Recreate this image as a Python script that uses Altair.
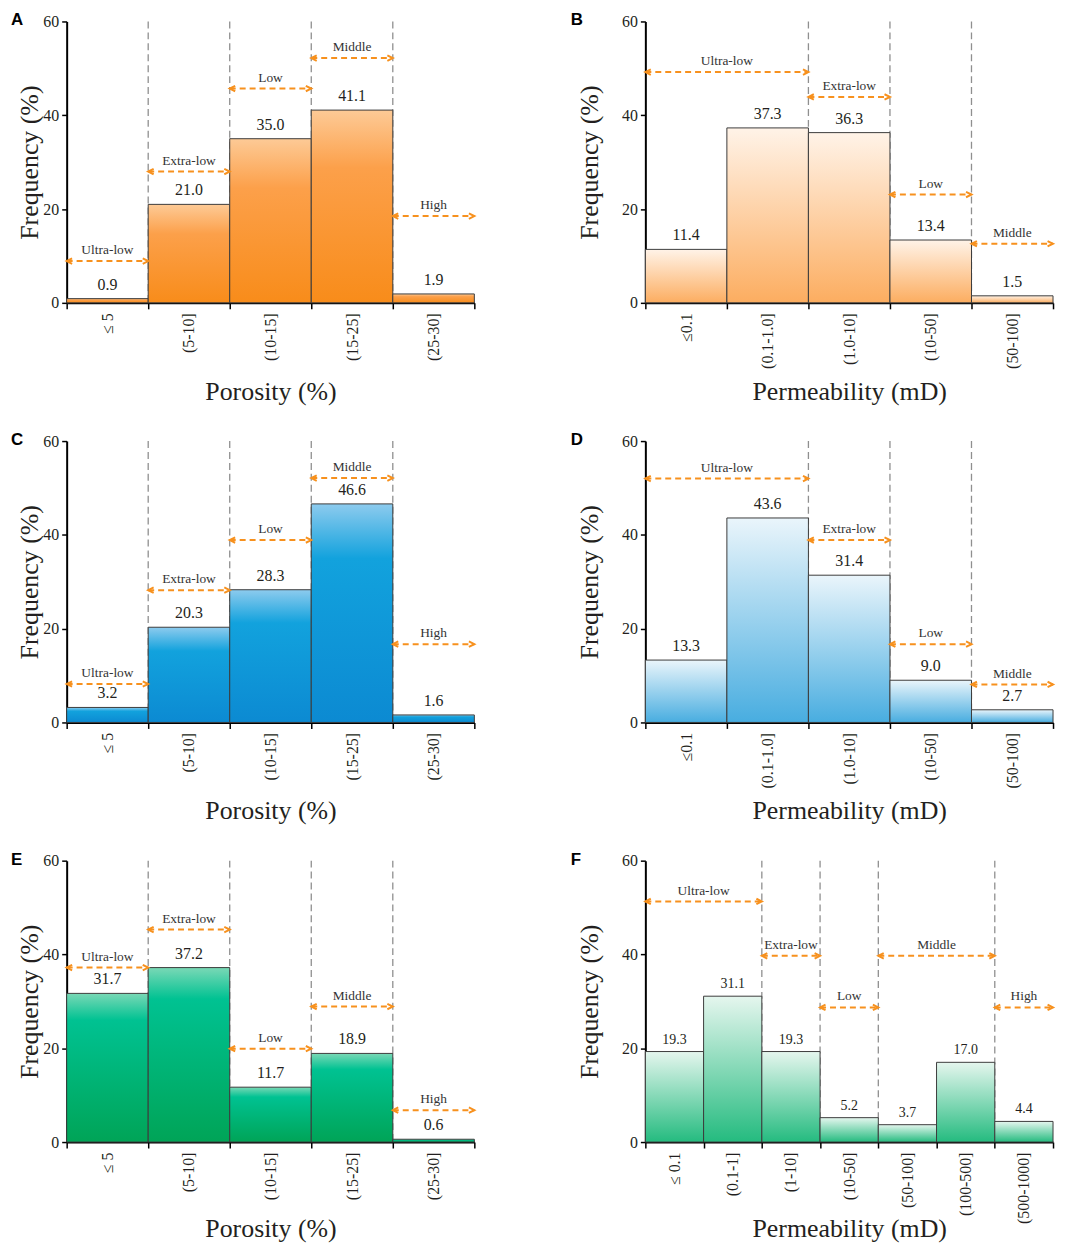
import json
import altair as alt
import pandas as pd

SERIF = "Liberation Serif"
SANS = "Liberation Sans"
ORANGE = "#f7911e"
TXT = "#231f20"

# ---------------- data ----------------
por_cats = ["≤ 5", "(5-10]", "(10-15]", "(15-25]", "(25-30]"]
perm_cats5 = ["≤0.1", "(0.1-1.0]", "(1.0-10]", "(10-50]", "(50-100]"]
perm_cats7 = ["≤ 0.1", "(0.1-1]", "(1-10]", "(10-50]", "(50-100]", "(100-500]", "(500-1000]"]

a_vals = [0.9, 21.0, 35.0, 41.1, 1.9]
b_vals = [11.4, 37.3, 36.3, 13.4, 1.5]
c_vals = [3.2, 20.3, 28.3, 46.6, 1.6]
d_vals = [13.3, 43.6, 31.4, 9.0, 2.7]
e_vals = [31.7, 37.2, 11.7, 18.9, 0.6]
f_vals = [19.3, 31.1, 19.3, 5.2, 3.7, 17.0, 4.4]

por_cls = ["Ultra-low", "Extra-low", "Low", "Middle", "High"]
por_cls_start = [0, 1, 2, 3, 4]
por_cls_end = [1, 2, 3, 4, 5]
por_bounds = [1, 2, 3, 4]

perm5_cls = ["Ultra-low", "Extra-low", "Low", "Middle"]
perm5_cls_start = [0, 2, 3, 4]
perm5_cls_end = [2, 3, 4, 5]
perm5_bounds = [2, 3, 4]

perm7_cls = ["Ultra-low", "Extra-low", "Low", "Middle", "High"]
perm7_cls_start = [0, 2, 3, 4, 6]
perm7_cls_end = [2, 3, 4, 6, 7]
perm7_bounds = [2, 3, 4, 6]

# arrow heights (frequency units)
a_arrow = [8.9, 28.0, 45.7, 52.2, 18.5]
b_arrow = [49.2, 43.9, 23.1, 12.6]
c_arrow = [8.2, 28.2, 38.9, 52.1, 16.7]
d_arrow = [52.0, 38.9, 16.7, 8.1]
e_arrow = [37.2, 45.3, 19.9, 28.9, 6.8]
f_arrow = [51.3, 39.7, 28.7, 39.7, 28.7]

y_ticks = [0, 20, 40, 60]


def grad(stops):
    return alt.LinearGradient(
        gradient="linear", x1=0, y1=0, x2=0, y2=1,
        stops=[alt.GradientStop(offset=o, color=c) for o, c in stops],
    )


G_A = grad([(0, "#fdca96"), (0.3, "#fca04a"), (1, "#f88c1a")])
G_B = grad([(0, "#fff3e8"), (1, "#fcad60")])
G_C = grad([(0, "#8dcbee"), (0.25, "#12a2dd"), (1, "#0c8ad2")])
G_D = grad([(0, "#eaf5fb"), (1, "#48ade0")])
G_E = grad([(0, "#7ad8b6"), (0.18, "#00c292"), (1, "#00a457")])
G_F = grad([(0, "#e5f6ee"), (1, "#24bb7f")])

W, H = 410, 283
LEFT_PAD, RIGHT_PAD = 0, 19


def panel(letter, cats, vals, cls, cls_s, cls_e, cls_y, bounds, fill,
          xtitle, left, vfont, vdy, title_y):
    n = len(cats)
    bars = pd.DataFrame({
        "start": list(range(n)),
        "end": list(range(1, n + 1)),
        "value": vals,
        "label": [f"{v:.1f}" for v in vals],
    })
    clsdf = pd.DataFrame({"name": cls, "s": cls_s, "e": cls_e, "ay": cls_y})
    bdf = pd.DataFrame({"b": bounds})

    xscale = alt.Scale(domain=[0, n], nice=False, zero=False)
    yscale = alt.Scale(domain=[0, 60], nice=False)
    is_edge = "datum.value % 1 == 0"
    label_expr = (is_edge + " ? '' : "
                  + json.dumps(cats, ensure_ascii=False)
                  + "[floor(datum.value)]")
    xaxis = alt.Axis(
        values=[i / 2 for i in range(2 * n + 1)],
        labelExpr=label_expr,
        labelAngle=270, labelFont=SERIF, labelColor=TXT,
        labelFontSize={"condition": {"test": is_edge, "value": 0}, "value": 16},
        labelPadding=4, labelOverlap=False, labelFlush=False,
        tickSize=6, tickColor="black", tickWidth=1.5,
        tickOpacity={"condition": {"test": is_edge, "value": 1}, "value": 0},
        domainColor="black", domainWidth=2, grid=False,
        titleFont=SERIF, titleFontSize=26, titleFontWeight="normal",
        titleColor=TXT, titleY=title_y, titleBaseline="alphabetic",
    )
    yaxis = alt.Axis(
        values=y_ticks, grid=False, domainColor="black", domainWidth=2,
        tickColor="black", tickWidth=1.5, tickSize=5,
        labelFont=SERIF, labelFontSize=16, labelColor=TXT, labelPadding=3,
        titleFont=SERIF, titleFontSize=26, titleFontWeight="normal",
        titleColor=TXT, titlePadding=LEFT_PAD if left else RIGHT_PAD,
    )

    def X(f):
        return alt.X(f, type="quantitative", scale=xscale, axis=xaxis, title=xtitle)

    def Y(f):
        return alt.Y(f, type="quantitative", scale=yscale, axis=yaxis, title="Frequency (%)")

    rules = alt.Chart(bdf).mark_rule(
        color="#8f8f8f", strokeDash=[7, 4], strokeWidth=1.3
    ).encode(x=X("b"), y=alt.datum(60), y2=alt.datum(0))

    bar = alt.Chart(bars).mark_bar(
        fill=fill, stroke="#3b3b3b", strokeWidth=1
    ).encode(x=X("start"), x2="end", y=Y("value"), y2=alt.datum(0))

    vtext = alt.Chart(bars).transform_calculate(
        mid="datum.start + 0.5"
    ).mark_text(
        font=SERIF, fontSize=vfont, color=TXT, baseline="middle", dy=vdy
    ).encode(x=X("mid"), y=Y("value"), text="label:N")

    arrow = alt.Chart(clsdf).mark_rule(
        color=ORANGE, strokeDash=[6, 4], strokeWidth=2
    ).encode(x=X("s"), x2="e", y=Y("ay"))

    head_l = alt.Chart(clsdf).mark_point(
        shape="M2,-1L0,0L2,1", size=30, filled=False, stroke=ORANGE,
        strokeWidth=2, opacity=1
    ).encode(x=X("s"), y=Y("ay"))
    head_r = alt.Chart(clsdf).mark_point(
        shape="M-2,-1L0,0L-2,1", size=30, filled=False, stroke=ORANGE,
        strokeWidth=2, opacity=1
    ).encode(x=X("e"), y=Y("ay"))

    ctext = alt.Chart(clsdf).transform_calculate(
        m="(datum.s + datum.e) / 2"
    ).mark_text(
        font=SERIF, fontSize=13.5, color="#333333", baseline="middle", dy=-11
    ).encode(x=X("m"), y=Y("ay"), text="name:N")

    let = alt.Chart(pd.DataFrame({"t": [letter]})).mark_text(
        font=SANS, fontWeight="bold", fontSize=17, align="left",
        baseline="top", color="black"
    ).encode(x=alt.value(-56 if left else -75), y=alt.value(-9), text="t:N")

    return alt.layer(rules, bar, vtext, arrow, head_l, head_r, ctext, let).properties(
        width=W, height=H
    )


pA = panel("A", por_cats, a_vals, por_cls, por_cls_start, por_cls_end, a_arrow,
           por_bounds, G_A, "Porosity (%)", True, 16, -14, 97)
pB = panel("B", perm_cats5, b_vals, perm5_cls, perm5_cls_start, perm5_cls_end, b_arrow,
           perm5_bounds, G_B, "Permeability (mD)", False, 16, -14, 97)
pC = panel("C", por_cats, c_vals, por_cls, por_cls_start, por_cls_end, c_arrow,
           por_bounds, G_C, "Porosity (%)", True, 16, -14, 97)
pD = panel("D", perm_cats5, d_vals, perm5_cls, perm5_cls_start, perm5_cls_end, d_arrow,
           perm5_bounds, G_D, "Permeability (mD)", False, 16, -14, 97)
pE = panel("E", por_cats, e_vals, por_cls, por_cls_start, por_cls_end, e_arrow,
           por_bounds, G_E, "Porosity (%)", True, 16, -14, 95)
pF = panel("F", perm_cats7, f_vals, perm7_cls, perm7_cls_start, perm7_cls_end, f_arrow,
           perm7_bounds, G_F, "Permeability (mD)", False, 14, -12, 95)

rows = [
    alt.hconcat(pA, pB, spacing=93),
    alt.hconcat(pC, pD, spacing=93),
    alt.hconcat(pE, pF, spacing=93),
]
chart = alt.vconcat(*rows, spacing=27).properties(
    padding={"left": 3, "top": 0, "right": 0, "bottom": 0}
).configure_view(stroke=None)

chart.save("out.html", embed_options={"renderer": "svg", "actions": False})
